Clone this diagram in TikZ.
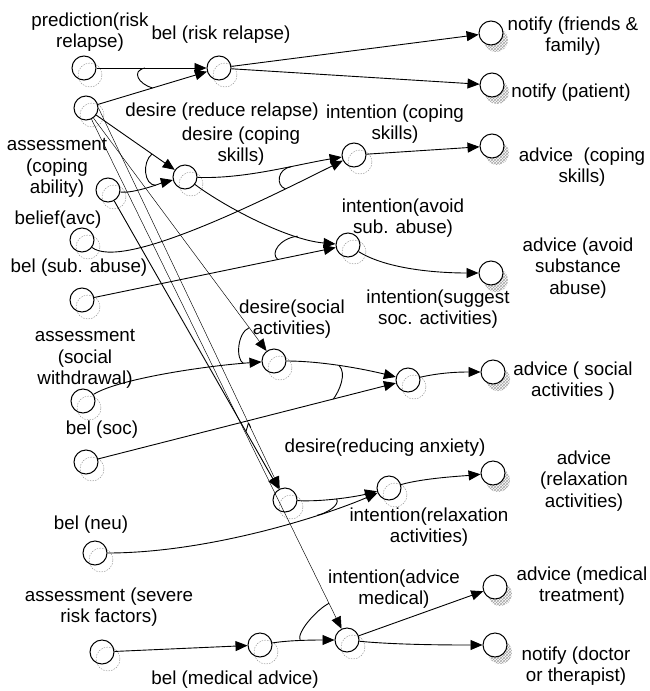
\documentclass[tikz,border=0pt]{standalone}
\usepackage{fontspec}
\setmainfont{Liberation Sans}
\usetikzlibrary{arrows.meta,shadows,patterns}

\begin{document}
\begin{tikzpicture}[
  x=1pt, y=-1pt,
  >={Triangle[length=12pt, width=10pt]},
  every node/.style={font=\fontsize{18.8}{21.5}\selectfont},
  mentalnode/.style={circle, draw=black, line width=1pt, minimum size=24pt, inner sep=0pt,
    general shadow={shadow xshift=6pt, shadow yshift=-7pt, draw=gray!80, line width=0.5pt,
      dash pattern=on 1.5pt off 1.2pt}},
  actionnode/.style={circle, draw=black, fill=white, line width=1pt, minimum size=24pt, inner sep=0pt,
    general shadow={shadow xshift=5pt, shadow yshift=-7pt, pattern=crosshatch, pattern color=gray!70}},
  txt/.style={align=center, inner sep=0pt},
  edge/.style={->, line width=0.9pt},
  weak/.style={->, line width=0.45pt},
  conj/.style={line width=0.9pt},
]
\useasboundingbox (0,0) rectangle (650,691);

% ---- beliefs, desires, intentions (dashed shadow) ----
\node[mentalnode] (pred)       at (84, 68)   {};
\node[mentalnode] (risk)       at (86, 108)  {};
\node[mentalnode] (belrisk)    at (219, 68)  {};
\node[mentalnode] (asscope)    at (108, 190) {};
\node[mentalnode] (desreduce)  at (185, 177) {};
\node[mentalnode] (intcoping)  at (354, 155) {};
\node[mentalnode] (avc)        at (82, 240)  {};
\node[mentalnode] (subabuse)   at (82, 300)  {};
\node[mentalnode] (intavoid)   at (348, 245) {};
\node[mentalnode] (asswith)    at (83, 401)  {};
\node[mentalnode] (dessocial)  at (274, 361) {};
\node[mentalnode] (intsuggest) at (408, 380) {};
\node[mentalnode] (belsoc)     at (86, 462)  {};
\node[mentalnode] (desanx)     at (285, 500) {};
\node[mentalnode] (intrelax)   at (389, 488) {};
\node[mentalnode] (belneu)     at (95, 553)  {};
\node[mentalnode] (sevrisk)    at (102, 652) {};
\node[mentalnode] (belmed)     at (260, 645) {};
\node[mentalnode] (intmed)     at (347, 640) {};

% ---- actions (hatched shadow) ----
\node[actionnode] (notfriends) at (491, 33)  {};
\node[actionnode] (notpatient) at (492, 85)  {};
\node[actionnode] (advcope)    at (492, 146) {};
\node[actionnode] (advavoid)   at (491, 273) {};
\node[actionnode] (advsocial)  at (493, 372) {};
\node[actionnode] (advrelax)   at (493, 473) {};
\node[actionnode] (advmed)     at (495, 587) {};
\node[actionnode] (notdoc)     at (495, 645) {};

% ---- labels ----
\node[txt] (tpred)       at (90, 32)   {prediction(risk\\relapse)};
\node[txt] (tbelrisk)    at (221, 35)  {bel (risk relapse)};
\node[txt] (tnotfriends) at (573, 36)  {notify (friends \&\\family)};
\node[txt] (tnotpatient) at (571, 93)  {notify (patient)};
\node[txt] (tintcoping)  at (395, 124) {intention (coping\\skills)};
\node[txt] (tdesreduce)  at (222, 112) {desire (reduce relapse)};
\node[txt] (tdescope)    at (241, 146) {desire (coping\\skills)};
\node[txt] (tasscope)    at (57, 168)  {assessment\\(coping\\ability)};
\node[txt] (tavc)        at (58, 220)  {belief(avc)};
\node[txt] (tadvcope)    at (582, 167) {advice~~(coping\\skills)};
\node[txt] (tsubabuse)   at (79, 268)  {bel (sub. abuse)};
\node[txt] (tintavoid)   at (403, 218) {intention(avoid\\sub. abuse)};
\node[txt] (tadvavoid)   at (578, 268) {advice (avoid\\substance\\abuse)};
\node[txt] (tintsuggest) at (438, 309) {intention(suggest\\soc. activities)};
\node[txt] (tdessocial)  at (292, 319) {desire(social\\activities)};
\node[txt] (tasswith)    at (85, 359)  {assessment\\(social\\withdrawal)};
\node[txt] (tbelsoc)     at (102, 430) {bel (soc)};
\node[txt] (tadvsocial)  at (573, 381) {advice ( social\\activities )};
\node[txt] (tdesanx)     at (385, 448) {desire(reducing anxiety)};
\node[txt] (tadvrelax)   at (584, 481) {advice\\(relaxation\\activities)};
\node[txt] (tintrelax)   at (429, 527) {intention(relaxation\\activities)};
\node[txt] (tbelneu)     at (91, 525)  {bel (neu)};
\node[txt] (tsevrisk)    at (109, 607) {assessment (severe\\risk factors)};
\node[txt] (tbelmed)     at (235, 680) {bel (medical advice)};
\node[txt] (tintmed)     at (394, 589) {intention(advice\\medical)};
\node[txt] (tadvmed)     at (582, 586) {advice (medical\\treatment)};
\node[txt] (tnotdoc)     at (576, 666) {notify (doctor\\or therapist)};

% ---- edges ----
\draw[edge] (pred) -- (belrisk) coordinate[pos=0.44] (a1t);
\draw[edge] (risk) -- (belrisk) coordinate[pos=0.5] (a1b);
\draw[edge] (belrisk) -- (notfriends);
\draw[edge] (belrisk) -- (notpatient);

\draw[edge] (risk) -- (desreduce) coordinate[pos=0.71] (a2t);
\draw[edge] (asscope) .. controls +(25,4) and +(-20,5) .. (desreduce) coordinate[pos=0.62] (a2b);
\draw[edge] (desreduce) .. controls +(60,2) and +(-60,10) .. (intcoping) coordinate[pos=0.65] (a3t);
\draw[edge] (avc) .. controls +(40,30) and +(-100,50) .. (intcoping) coordinate[pos=0.8] (a3b);
\draw[edge] (intcoping) -- (advcope);

\draw[edge] (desreduce) .. controls +(40,30) and +(-60,-5) .. (intavoid) coordinate[pos=0.75] (a4t);
\draw[edge] (subabuse) -- (intavoid) coordinate[pos=0.76] (a4b);
\draw[edge] (intavoid) .. controls +(40,25) and +(-50,0) .. (advavoid);

\draw[weak] (risk) -- (dessocial) coordinate[pos=0.9] (a5t);
\draw[edge] (asswith) .. controls +(35,-22) and +(-70,5) .. (dessocial) coordinate[pos=0.9] (a5b);
\draw[edge] (dessocial) .. controls +(50,0) and +(-40,-10) .. (intsuggest) coordinate[pos=0.45] (a6t);
\draw[edge] (belsoc) -- (intsuggest) coordinate[pos=0.79] (a6b);
\draw[edge] (intsuggest) .. controls +(35,-8) and +(-30,0) .. (advsocial);

\draw[edge] (asscope) -- (desanx) coordinate[pos=0.8] (a7a);
\draw[weak] (risk.east) -- (desanx) coordinate[pos=0.84] (a7b);
\draw[edge] (desanx) .. controls +(40,2) and +(-30,8) .. (intrelax) coordinate[pos=0.45] (a8t);
\draw[edge] (belneu) .. controls +(110,0) and +(-70,30) .. (intrelax) coordinate[pos=0.72] (a8b);
\draw[edge] (intrelax) .. controls +(35,-10) and +(-30,3) .. (advrelax);

\draw[weak] (risk) -- (intmed) coordinate[pos=0.95] (a9t);
\draw[edge] (sevrisk) -- (belmed);
\draw[edge] (belmed) .. controls +(30,-5) and +(-30,0) .. (intmed) coordinate[pos=0.45] (a9b);
\draw[edge] (intmed) -- (advmed);
\draw[edge] (intmed) .. controls +(50,5) and +(-40,0) .. (notdoc);

% ---- conjunction arcs ----
\draw[conj] (a1t) .. controls +(-14,3) and +(-14,-4) .. (a1b);
\draw[conj] (a2t) .. controls +(-10,8) and +(-12,0) .. (a2b);
\draw[conj] (a3t) .. controls +(-14,2) and +(-10,-3) .. (a3b);
\draw[conj] (a4t) .. controls +(-18,2) and +(-8,-6) .. (a4b);
\draw[conj] (a5t) .. controls +(-12,5) and +(-8,-4) .. (a5b);
\draw[conj] (a6t) .. controls +(8,8) and +(6,-8) .. (a6b);
\draw[conj] (a7a) .. controls +(3,-8) and +(-3,-8) .. (a7b);
\draw[conj] (a8t) .. controls +(4,6) and +(10,-2) .. (a8b);
\draw[conj] (a9t) .. controls +(-12,6) and +(-4,-8) .. (a9b);

\end{tikzpicture}
\end{document}
